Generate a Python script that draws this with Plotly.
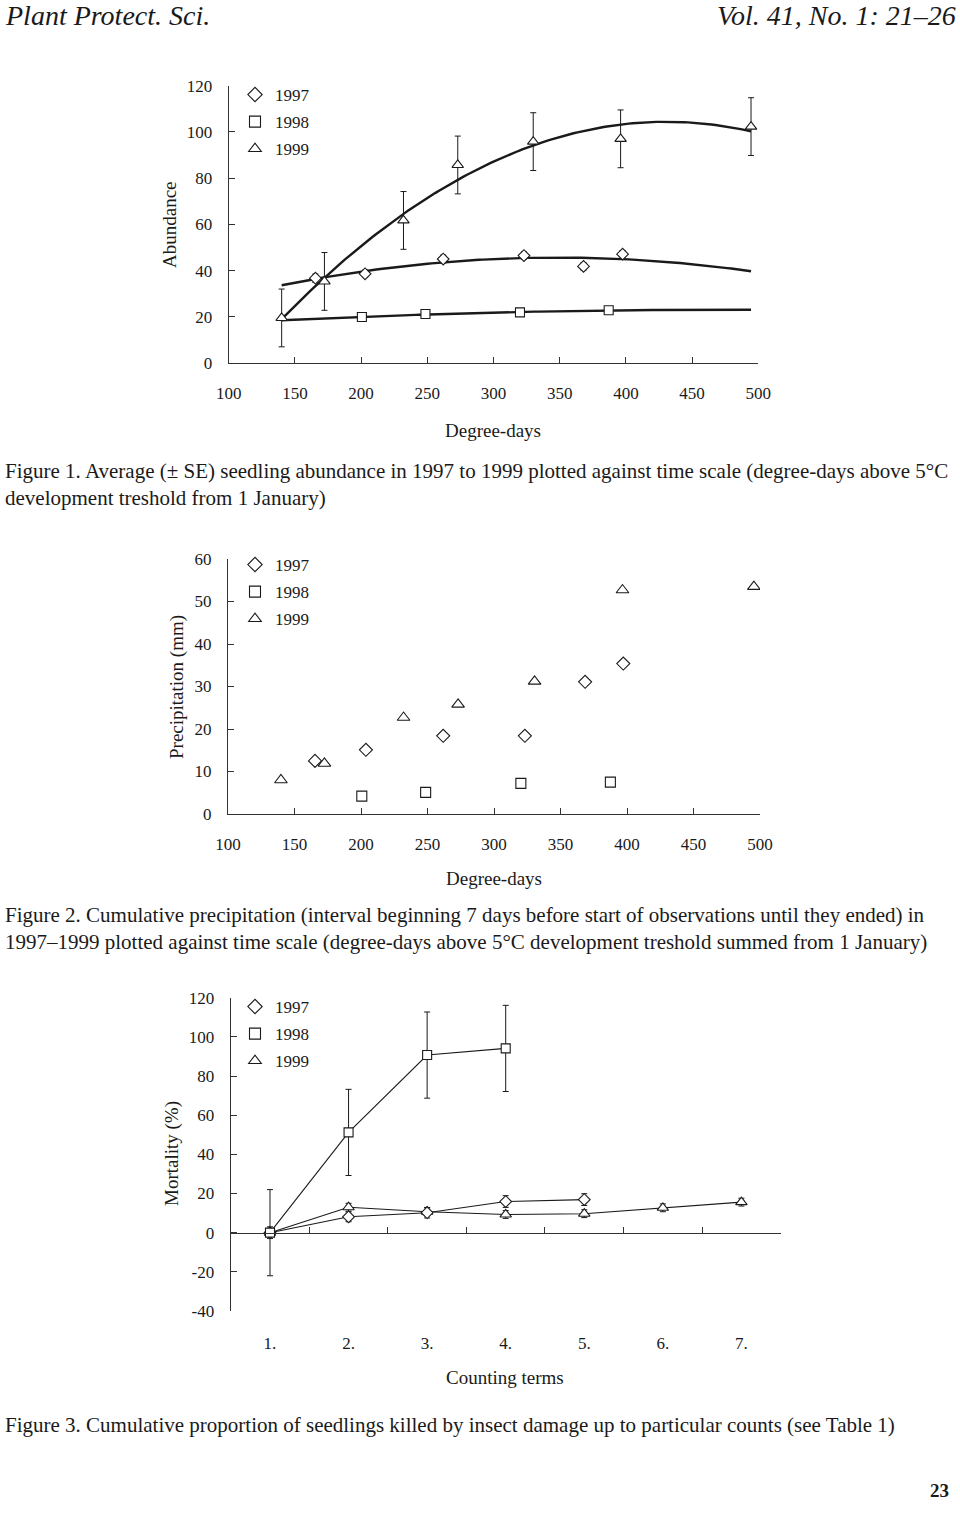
import numpy as np
import plotly.graph_objects as go

W, H = 960, 1515

# ---- data: Figure 1, seedling abundance (mean ± SE) against degree-days
years = ["1997", "1998", "1999"]
abund_x_1997 = [165.5, 203, 262, 323, 368, 397.5]
abund_y_1997 = [36.7, 38.6, 45.0, 46.5, 41.8, 47.1]
abund_se_1997 = [1.8, 1.6, 1.7, 1.6, 1.6, 1.6]
abund_x_1998 = [200.6, 248.6, 320, 387]
abund_y_1998 = [19.9, 21.2, 21.9, 22.8]
abund_x_1999 = [140, 172.3, 232, 273, 330, 396, 494.5]
abund_y_1999 = [19.5, 35.3, 61.7, 85.7, 95.8, 97.0, 102.3]
abund_se_1999 = [12.5, 12.5, 12.5, 12.5, 12.5, 12.5, 12.5]

# ---- data: Figure 2, cumulative precipitation (mm)
prec_x_1997 = [165.4, 203.7, 261.8, 323.2, 368.5, 397.2]
prec_y_1997 = [12.5, 15.1, 18.4, 18.4, 31.1, 35.4]
prec_x_1998 = [200.6, 248.6, 320.2, 387.5]
prec_y_1998 = [4.2, 5.1, 7.2, 7.5]
prec_x_1999 = [139.8, 172.5, 232, 273, 330.5, 396.6, 495.4]
prec_y_1999 = [8.0, 11.9, 22.7, 25.8, 31.2, 52.7, 53.5]

# ---- data: Figure 3, cumulative mortality (%) per counting term
terms = [1, 2, 3, 4, 5, 6, 7]
term_labels = ["1.", "2.", "3.", "4.", "5.", "6.", "7."]
term_bounds = [1.5, 2.5, 3.5, 4.5, 5.5, 6.5, 7.5]
mort_ticks = [-40, -20, 0, 20, 40, 60, 80, 100, 120]
mort_1997 = [0, 8.1, 10.2, 15.9, 16.9]
mort_se_1997 = [3, 2.5, 2.7, 3, 3]
mort_1998 = [0, 51.2, 90.7, 94.1]
mort_se_1998 = [22, 22, 22, 22]
mort_1999 = [0, 13.0, 10.7, 9.3, 9.7, 12.7, 15.6]
mort_se_1999 = [1.5, 2, 2, 2, 2, 2, 2]

INK = "#1a1a1a"
SERIF = "Liberation Serif"
symbols = {"1997": "diamond", "1998": "square", "1999": "triangle-up"}


def px_x(p):
    return p / W


def px_y(p):
    return 1 - p / H


def mk(year, size=9):
    return dict(symbol=symbols[year], size=size, color="white",
                line=dict(color=INK, width=1.1))


def err(arr):
    return dict(type="data", array=arr, color=INK, thickness=1, width=3)


fig = go.Figure()

# Figure 1: quadratic trend curves fitted to each year
curve_x = np.linspace(min(abund_x_1999), max(abund_x_1999), 120)
for xs, ys in [(abund_x_1997, abund_y_1997), (abund_x_1998, abund_y_1998),
               (abund_x_1999, abund_y_1999)]:
    coef = np.polyfit(xs, ys, 2)
    fig.add_trace(go.Scatter(x=curve_x, y=np.polyval(coef, curve_x), mode="lines",
                             line=dict(color=INK, width=2.4), showlegend=False,
                             hoverinfo="skip", xaxis="x", yaxis="y"))

fig.add_trace(go.Scatter(x=abund_x_1997, y=abund_y_1997, mode="markers", marker=mk("1997", 9),
                         error_y=err(abund_se_1997), showlegend=False, xaxis="x", yaxis="y"))
fig.add_trace(go.Scatter(x=abund_x_1998, y=abund_y_1998, mode="markers", marker=mk("1998", 9),
                         showlegend=False, xaxis="x", yaxis="y"))
fig.add_trace(go.Scatter(x=abund_x_1999, y=abund_y_1999, mode="markers", marker=mk("1999", 10),
                         error_y=err(abund_se_1999), showlegend=False, xaxis="x", yaxis="y"))

# Figure 2: precipitation points
fig.add_trace(go.Scatter(x=prec_x_1997, y=prec_y_1997, mode="markers", marker=mk("1997", 10),
                         showlegend=False, xaxis="x2", yaxis="y2"))
fig.add_trace(go.Scatter(x=prec_x_1998, y=prec_y_1998, mode="markers", marker=mk("1998", 10),
                         showlegend=False, xaxis="x2", yaxis="y2"))
fig.add_trace(go.Scatter(x=prec_x_1999, y=prec_y_1999, mode="markers", marker=mk("1999", 11),
                         showlegend=False, xaxis="x2", yaxis="y2"))

# Figure 3: connecting lines under the markers
for ys in [mort_1997, mort_1998, mort_1999]:
    fig.add_trace(go.Scatter(x=terms[:len(ys)], y=ys, mode="lines",
                             line=dict(color=INK, width=1.1), showlegend=False,
                             hoverinfo="skip", xaxis="x3", yaxis="y3"))
fig.add_trace(go.Scatter(x=terms[:len(mort_1999)], y=mort_1999, mode="markers", marker=mk("1999", 10),
                         error_y=err(mort_se_1999), showlegend=False, xaxis="x4", yaxis="y3"))
fig.add_trace(go.Scatter(x=terms[:len(mort_1997)], y=mort_1997, mode="markers", marker=mk("1997", 9),
                         error_y=err(mort_se_1997), showlegend=False, xaxis="x4", yaxis="y3"))
fig.add_trace(go.Scatter(x=terms[:len(mort_1998)], y=mort_1998, mode="markers", marker=mk("1998", 9),
                         error_y=err(mort_se_1998), showlegend=False, xaxis="x4", yaxis="y3"))

# legend entries (one legend per figure)
for leg, xa, ya in [("legend", "x", "y"), ("legend2", "x2", "y2"), ("legend3", "x4", "y3")]:
    for yr in years:
        fig.add_trace(go.Scatter(x=[None], y=[None], mode="markers", marker=mk(yr, 11),
                                 name=yr, legend=leg, legendgroup=leg + yr,
                                 xaxis=xa, yaxis=ya))

axis_common = dict(showgrid=False, zeroline=False, showline=True, linecolor="#333",
                   linewidth=1.3, ticks="inside", ticklen=6, tickcolor="#333",
                   automargin=False,
                   tickfont=dict(family=SERIF, size=17, color=INK))

# y position (paper) of the zero line in figure 3
y3_dom = [px_y(1311), px_y(997.7)]
zero3 = y3_dom[0] + (0 - (-40)) / 160 * (y3_dom[1] - y3_dom[0])

fig.update_layout(
    template="none",
    width=W, height=H, margin=dict(l=0, r=0, t=0, b=0, pad=0), autosize=False,
    paper_bgcolor="white", plot_bgcolor="white",
    font=dict(family=SERIF, color=INK),
    xaxis=dict(axis_common, domain=[px_x(228.7), px_x(758.3)], range=[100, 500], dtick=50,
               anchor="y", ticklabelstandoff=14),
    yaxis=dict(axis_common, domain=[px_y(363), px_y(85.7)], range=[0, 120], dtick=20,
               anchor="x", ticklabelstandoff=12),
    xaxis2=dict(axis_common, domain=[px_x(228), px_x(760)], range=[100, 500], dtick=50,
                anchor="y2", ticklabelstandoff=14),
    yaxis2=dict(axis_common, domain=[px_y(814), px_y(559)], range=[0, 60], dtick=10,
                anchor="x2", ticklabelstandoff=12),
    xaxis3=dict(axis_common, domain=[px_x(230.7), px_x(780.7)], range=[0.5, 7.5],
                tickmode="array", tickvals=term_bounds, showticklabels=False,
                anchor="free", position=zero3),
    xaxis4=dict(showgrid=False, zeroline=False, showline=False, ticks="", automargin=False,
                overlaying="x3", anchor="y3", range=[0.5, 7.5],
                tickmode="array", tickvals=terms, ticktext=term_labels,
                tickfont=dict(family=SERIF, size=17, color=INK), ticklabelstandoff=20),
    yaxis3=dict(axis_common, domain=y3_dom, range=[-40, 120],
                tickmode="array", tickvals=mort_ticks, ticktext=[str(v) for v in mort_ticks],
                anchor="x3", ticklabelstandoff=12),
)

legend_common = dict(xanchor="left", yanchor="top", bgcolor="rgba(0,0,0,0)",
                     font=dict(family=SERIF, size=17, color=INK), tracegroupgap=2,
                     itemwidth=30)
fig.update_layout(
    legend=dict(legend_common, x=px_x(235), y=px_y(77)),
    legend2=dict(legend_common, x=px_x(235), y=px_y(547)),
    legend3=dict(legend_common, x=px_x(235), y=px_y(989)),
)

# axis titles as annotations
titles = [
    ("Abundance", 169, 225, -90),
    ("Degree-days", 493, 430, 0),
    ("Precipitation (mm)", 177, 687, -90),
    ("Degree-days", 494, 878, 0),
    ("Mortality (%)", 172, 1154, -90),
    ("Counting terms", 505, 1377, 0),
]
for text, x, y, ang in titles:
    fig.add_annotation(text=text, x=px_x(x), y=px_y(y), xref="paper", yref="paper",
                       showarrow=False, textangle=ang, xanchor="center", yanchor="middle",
                       font=dict(family=SERIF, size=19, color=INK))

# page text: header, captions, page number
captions = [
    ("Figure 1. Average (± SE) seedling abundance in 1997 to 1999 plotted against time scale "
     "(degree-days above 5°C", 471),
    ("development treshold from 1 January)", 498),
    ("Figure 2. Cumulative precipitation (interval beginning 7 days before start of observations "
     "until they ended) in", 915),
    ("1997–1999 plotted against time scale (degree-days above 5°C development treshold summed "
     "from 1 January)", 942),
    ("Figure 3. Cumulative proportion of seedlings killed by insect damage up to particular counts "
     "(see Table 1)", 1425),
]
for text, y in captions:
    fig.add_annotation(text=text, x=px_x(3), y=px_y(y), xref="paper", yref="paper",
                       showarrow=False, xanchor="left", yanchor="middle",
                       font=dict(family=SERIF, size=21, color=INK))

fig.add_annotation(text="<i>Plant Protect. Sci.</i>", x=px_x(3), y=px_y(16), xref="paper",
                   yref="paper", showarrow=False, xanchor="left", yanchor="middle",
                   font=dict(family=SERIF, size=28, color=INK))
fig.add_annotation(text="<i>Vol. 41, No. 1: 21–26</i>", x=px_x(958), y=px_y(16), xref="paper",
                   yref="paper", showarrow=False, xanchor="right", yanchor="middle",
                   font=dict(family=SERIF, size=28, color=INK))
fig.add_annotation(text="<b>23</b>", x=px_x(951), y=px_y(1490), xref="paper", yref="paper",
                   showarrow=False, xanchor="right", yanchor="middle",
                   font=dict(family=SERIF, size=19, color=INK))

# drop the default page margin so the 960x1515 figure fills the window exactly
fig.write_html("out.html", config={"displayModeBar": False},
               post_script="document.body.style.margin='0';document.body.style.overflow='hidden';")
